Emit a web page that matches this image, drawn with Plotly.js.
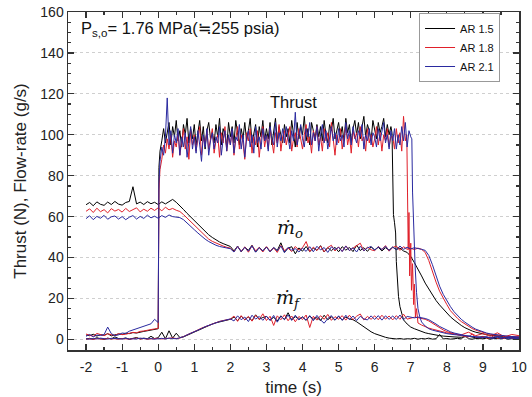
<!DOCTYPE html>
<html>
<head>
<meta charset="utf-8">
<script src="https://cdn.plot.ly/plotly-3.0.1.min.js"></script>
<style>html,body{margin:0;padding:0;background:#fff;}#chart{width:532px;height:397px;}</style>
</head>
<body>
<div id="chart"></div>
<script>
// ---------- data ----------
const seriesNames = ['AR 1.5', 'AR 1.8', 'AR 2.1'];
const seriesColors = ['#000000', '#e0202a', '#2a2aa0'];

// time before ignition (thrust baseline)
const tPre = [-2.0,-1.9,-1.8,-1.7,-1.6,-1.5,-1.4,-1.3,-1.2,-1.1,-1.0,-0.9,-0.8,-0.7,-0.6,-0.5,-0.4,-0.3,-0.2,-0.1,0.0];
const thrustPre15 = [2.1,1.8,2.5,1.6,2.3,2.0,2.8,1.7,2.2,2.6,2.4,3.0,2.8,3.3,3.1,3.6,3.9,4.2,4.5,4.8,5.2];
const thrustPre18 = [2.6,2.0,1.5,2.9,2.2,1.8,2.7,2.4,1.9,2.8,2.3,2.5,3.0,3.4,3.2,3.9,4.1,4.6,4.8,5.1,5.4];
const thrustPre21 = [1.5,2.4,1.2,2.1,1.9,2.3,6.0,2.8,1.8,2.2,3.1,2.9,4.0,4.6,5.2,5.9,6.4,7.1,7.6,9.8,8.2];

// thrust plateau time base
const tPlat = [0.02,0.05,0.1,0.15,0.2,0.25,0.3,0.35,0.4,0.45,
  0.5,0.55,0.6,0.65,0.7,0.75,0.8,0.85,0.9,0.95,
  1.0,1.05,1.1,1.15,1.2,1.25,1.3,1.35,1.4,1.45,
  1.5,1.55,1.6,1.65,1.7,1.75,1.8,1.85,1.9,1.95,
  2.0,2.05,2.1,2.15,2.2,2.25,2.3,2.35,2.4,2.45,
  2.5,2.55,2.6,2.65,2.7,2.75,2.8,2.85,2.9,2.95,
  3.0,3.05,3.1,3.15,3.2,3.25,3.3,3.35,3.4,3.45,
  3.5,3.55,3.6,3.65,3.7,3.75,3.8,3.85,3.9,3.95,
  4.0,4.05,4.1,4.15,4.2,4.25,4.3,4.35,4.4,4.45,
  4.5,4.55,4.6,4.65,4.7,4.75,4.8,4.85,4.9,4.95,
  5.0,5.05,5.1,5.15,5.2,5.25,5.3,5.35,5.4,5.45,
  5.5,5.55,5.6,5.65,5.7,5.75,5.8,5.85,5.9,5.95,
  6.0,6.05,6.1,6.15,6.2,6.25,6.3,6.35,6.4,6.45];
const thrustPlat15 = [84,92,97,103,96,101,106,95,104,99,
  107,97,102,94,105,100,108,96,103,98,
  105,95,101,107,97,104,93,102,106,98,
  101,96,105,99,108,95,103,100,94,106,
  99,104,96,107,101,95,103,98,106,97,
  102,108,96,100,105,94,104,99,107,97,
  103,98,106,95,101,108,97,104,100,96,
  105,99,103,96,107,101,94,106,98,104,
  100,109,97,103,95,106,101,98,105,99,
  104,97,107,100,96,105,102,108,98,103,
  106,99,104,97,108,101,105,96,103,107,
  100,106,98,104,109,99,105,102,97,107,
  103,98,106,101,104,108,99,105,100,104];
const thrustPlat18 = [73,83,88,95,91,98,93,100,89,97,
  94,101,90,98,103,93,99,88,102,95,
  100,92,97,104,90,99,95,102,93,98,
  103,91,97,100,89,101,96,104,92,99,
  95,102,90,98,104,93,100,96,88,101,
  97,103,91,99,95,102,89,98,104,94,
  100,93,103,97,91,101,96,105,92,99,
  102,95,99,104,92,98,101,94,103,97,
  93,100,105,96,99,91,102,97,104,95,
  99,92,103,97,101,94,106,98,90,100,
  96,103,93,99,105,95,100,91,102,98,
  101,94,104,97,99,92,103,96,100,94,
  98,104,95,101,92,100,97,103,94,99];
const thrustPlat21 = [76,87,94,90,99,118,95,102,91,100,
  96,103,90,99,94,101,89,98,104,93,
  99,91,102,95,87,100,94,103,90,97,
  101,93,99,96,104,90,98,102,92,100,
  95,103,91,99,97,105,93,100,89,98,
  102,94,100,91,104,96,99,93,103,97,
  100,92,104,98,95,106,94,101,97,103,
  96,104,99,93,102,97,111,95,100,105,
  98,94,103,99,106,95,101,97,104,92,
  100,105,96,102,93,99,104,97,101,95,
  103,97,100,94,106,98,102,95,104,99,
  96,102,99,105,93,100,97,103,95,101,
  99,94,103,97,101,106,96,100,93,102];

// thrust shutdown tails
const tTail15 = [6.48,6.5,6.52,6.55,6.58,6.6,6.63,6.66,6.7,6.75,6.8,6.9,7.0,7.1,7.2,7.3,7.4,7.5,7.6,7.7,7.8,7.9,8.0,8.2,8.4,8.6,8.8,9.0,9.2,9.4,9.6,9.8,10.0];
const thrustTail15 = [101,72,61,57,52,38,27,21,16,12,9.5,7.5,6,5.2,4.5,3.8,3.2,2.8,2.4,2.1,1.8,1.6,1.4,1.2,1.0,1.5,0.8,1.3,0.6,1.1,0.9,0.7,1.0];
const tTail18 = [6.5,6.55,6.6,6.65,6.7,6.75,6.8,6.85,6.89,6.91,6.93,6.95,6.97,7.0,7.02,7.05,7.08,7.1,7.13,7.16,7.2,7.3,7.4,7.5,7.6,7.7,7.8,7.9,8.0,8.2,8.4,8.6,8.8,9.0,9.2,9.4,9.6,9.8,10.0];
const thrustTail18 = [99,93,103,96,101,92,109,97,100,72,44,62,31,47,24,37,17,27,11,15,8,7,6.2,5.5,5,4.5,4,3.6,3.2,2.6,2.2,3.5,1.8,2.8,1.5,3.2,1.2,2.4,1.8];
const tTail21 = [6.5,6.55,6.6,6.65,6.7,6.75,6.8,6.85,6.9,6.95,7.0,7.03,7.05,7.08,7.12,7.16,7.2,7.25,7.3,7.4,7.5,7.6,7.7,7.8,7.9,8.0,8.2,8.4,8.6,8.8,9.0,9.2,9.4,9.6,9.8,10.0];
const thrustTail21 = [97,103,93,100,95,104,97,106,94,102,99,98,72,52,36,23,15,11,8.5,6.5,5.2,4.5,4,3.5,3.2,2.8,2.3,1.9,1.6,1.3,1.1,0.9,1.4,0.8,1.0,0.7];

// flow-rate time base
const tFlow = [-2.0,-1.9,-1.8,-1.7,-1.6,-1.5,-1.4,-1.3,-1.2,-1.1,
  -1.0,-0.9,-0.8,-0.7,-0.6,-0.5,-0.4,-0.3,-0.2,-0.1,
  0.0,0.1,0.2,0.3,0.4,0.5,0.6,0.7,0.8,0.9,
  1.0,1.1,1.2,1.3,1.4,1.5,1.6,1.7,1.8,1.9,
  2.0,2.1,2.2,2.3,2.4,2.5,2.6,2.7,2.8,2.9,
  3.0,3.1,3.2,3.3,3.4,3.5,3.6,3.7,3.8,3.9,
  4.0,4.1,4.2,4.3,4.4,4.5,4.6,4.7,4.8,4.9,
  5.0,5.1,5.2,5.3,5.4,5.5,5.6,5.7,5.8,5.9,
  6.0,6.1,6.2,6.3,6.4,6.5,6.6,6.7,6.8,6.9,
  7.0,7.1,7.2,7.3,7.4,7.5,7.6,7.7,7.8,7.9,
  8.0,8.1,8.2,8.3,8.4,8.5,8.6,8.7,8.8,8.9,
  9.0,9.1,9.2,9.3,9.4,9.5,9.6,9.7,9.8,9.9,10.0];

// oxidizer flow-rate (g/s)
const mo15 = [65.8,66.9,65.3,67.2,66.0,65.5,67.1,65.9,67.4,66.1,
  65.6,66.9,67.4,74.6,66.2,67.1,65.9,67.3,66.3,67.0,
  65.9,67.2,66.2,67.5,68.4,67.0,65.4,63.5,61.6,59.8,
  57.9,56.0,54.3,52.6,51.1,49.8,48.6,47.6,46.8,46.0,
  45.4,43.2,45.6,42.8,45.1,43.5,46.0,42.7,44.9,43.3,
  45.2,42.9,44.8,43.4,47.2,42.6,44.5,45.3,41.8,44.7,
  43.1,45.4,42.9,44.6,43.5,45.8,42.7,44.9,43.3,45.0,
  42.8,45.3,43.6,44.9,42.9,46.1,43.4,44.8,43.0,45.2,
  43.7,45.0,43.2,44.8,43.6,45.1,43.9,44.6,43.2,42.5,
  40.5,37.5,34.5,31.0,27.5,24.5,21.5,19.0,16.8,14.8,
  12.8,11.0,9.5,8.0,6.8,5.7,4.8,4.1,3.5,3.0,
  2.6,2.3,2.0,1.8,1.6,1.5,1.3,1.2,1.1,1.0,1.0];
const mo18 = [62.6,63.8,62.0,64.1,62.4,63.4,61.8,63.9,62.7,63.5,
  62.2,64.0,62.5,63.3,64.3,62.3,63.6,62.6,64.1,63.0,
  64.3,62.8,64.6,63.3,64.0,63.1,62.5,61.0,59.3,57.5,
  55.6,53.8,52.0,50.4,49.0,47.9,47.0,46.2,45.6,45.0,
  44.6,42.8,45.5,43.0,45.2,42.6,45.8,43.3,44.9,42.7,
  45.3,43.1,44.7,42.5,45.9,43.4,44.6,42.9,45.4,43.6,
  44.8,47.8,42.9,45.1,43.4,45.6,42.8,44.9,46.0,43.2,
  45.2,43.0,45.7,43.4,44.6,45.5,47.0,43.2,45.1,43.8,
  43.3,45.4,43.9,45.8,43.1,44.9,45.6,43.5,45.3,44.0,
  44.5,43.9,44.6,44.0,42.5,38.5,33.0,28.0,23.5,20.0,
  17.0,14.0,12.0,10.2,8.7,7.5,6.3,5.3,4.5,3.9,
  3.3,2.9,2.5,2.2,2.0,1.8,1.6,1.5,1.4,1.3,1.2];
const mo21 = [59.0,60.4,58.5,60.1,59.2,60.6,58.7,59.9,60.3,58.8,
  60.0,58.5,59.7,60.5,58.8,60.1,59.1,60.7,59.4,60.2,
  59.2,60.5,59.6,60.8,60.0,59.6,59.5,58.5,57.0,55.3,
  53.6,52.0,50.4,49.0,47.8,46.8,46.0,45.4,45.0,44.6,
  44.3,42.7,45.4,42.9,45.0,43.1,45.7,42.6,44.8,43.2,
  45.1,42.8,44.9,43.3,45.6,42.4,45.0,43.6,44.3,42.7,
  44.6,43.0,45.3,42.8,45.5,43.7,44.9,42.5,45.2,43.9,
  45.0,42.9,45.6,43.4,44.8,42.7,45.5,43.3,44.7,45.4,
  43.6,45.2,43.9,45.5,43.4,45.1,43.8,45.6,44.0,45.0,
  44.2,44.8,44.5,44.0,43.5,41.0,36.5,31.0,26.0,22.0,
  18.8,16.0,13.5,11.5,9.8,8.4,7.0,6.0,5.0,4.3,
  3.6,3.1,2.7,2.4,2.1,1.9,1.7,1.5,1.4,1.3,1.2];

// fuel flow-rate (g/s)
const mf15 = [0.2,0.5,0.1,0.8,0.3,0.0,0.6,0.2,1.2,0.4,
  0.3,0.7,0.1,0.5,0.9,0.2,0.6,0.3,1.5,0.4,
  0.8,3.5,0.3,4.2,0.6,3.0,0.9,1.2,2.0,2.8,
  3.6,4.5,5.3,6.1,6.8,7.5,8.1,8.6,9.1,9.5,
  9.8,10.9,9.2,11.3,9.6,11.0,9.1,12.0,9.8,10.7,
  11.2,9.4,10.8,9.0,11.5,9.7,13.0,9.5,11.1,9.8,
  10.9,9.3,11.4,9.9,10.6,9.2,11.8,9.6,11.0,9.4,
  11.2,9.5,10.9,10.0,9.6,8.6,7.3,6.0,4.8,3.7,
  2.8,2.1,1.5,1.0,0.6,0.3,0.2,0.4,0.1,0.3,
  0.2,0.5,0.1,0.4,0.2,0.6,0.1,0.3,2.4,0.2,
  0.4,0.1,0.3,0.5,0.2,1.8,0.3,0.1,0.4,0.2,
  0.3,0.6,0.1,0.4,0.2,0.3,0.5,0.1,0.3,0.2,0.3];
const mf18 = [0.1,0.3,0.0,0.4,0.2,0.1,0.5,0.2,0.3,0.1,
  0.4,0.2,0.1,0.3,0.6,0.2,0.4,0.1,0.3,0.2,
  0.5,0.2,0.4,0.3,0.7,0.4,0.6,1.4,2.1,3.0,
  3.8,4.6,5.5,6.2,7.0,7.6,8.3,8.8,9.2,9.6,
  9.9,11.4,8.8,11.6,9.5,11.2,8.9,11.8,9.7,12.5,
  9.2,11.3,6.8,11.5,9.6,12.0,9.1,11.4,8.6,11.2,
  9.7,11.9,5.8,11.3,9.4,11.6,9.8,12.2,9.3,11.1,
  9.9,11.6,9.4,11.8,9.6,11.3,12.4,9.5,11.2,9.8,
  11.5,9.6,11.8,9.9,11.4,9.5,11.6,9.8,12.3,9.9,
  10.4,10.8,10.6,10.3,9.8,9.0,7.8,6.6,5.5,4.6,
  3.8,3.2,2.6,2.2,1.8,1.5,1.2,2.6,1.0,0.8,
  1.5,0.7,0.6,1.8,0.5,0.9,0.4,1.6,0.5,0.8,0.6];
const mf21 = [0.3,0.1,0.4,0.2,0.6,0.2,0.1,0.5,0.3,0.2,
  0.2,0.5,0.1,0.3,0.2,0.6,0.3,0.2,0.4,0.1,
  0.3,0.5,0.2,0.6,0.4,0.3,0.8,1.3,2.2,2.9,
  3.7,4.6,5.3,6.2,6.9,7.6,8.2,8.7,9.1,9.5,
  10.0,9.0,11.5,9.6,10.9,8.7,11.8,9.9,11.2,9.3,
  11.4,9.2,11.7,8.4,11.3,9.6,11.9,9.3,11.8,9.5,
  11.0,9.4,11.6,9.1,11.7,9.5,7.9,10.2,11.6,9.4,
  11.5,9.3,11.8,9.6,11.4,9.2,11.3,10.0,9.5,11.5,
  9.7,11.6,9.4,11.5,9.8,11.4,9.7,11.9,9.6,11.2,
  10.7,10.5,10.9,10.6,10.2,9.6,8.7,7.5,6.3,5.3,
  4.4,3.7,3.1,2.6,2.2,1.9,1.6,1.3,1.1,0.9,
  0.8,1.4,0.6,0.5,1.2,0.4,0.9,0.3,0.6,0.4,0.3];

const xTickVals = [-2,-1,0,1,2,3,4,5,6,7,8,9,10];
const xTickText = ['-2','-1','0','1','2','3','4','5','6','7','8','9','10'];
const yTickVals = [0,20,40,60,80,100,120,140,160];

// ---------- traces ----------
const thrustT = [
  tPre.concat(tPlat, tTail15),
  tPre.concat(tPlat, tTail18),
  tPre.concat(tPlat, tTail21)
];
const thrustY = [
  thrustPre15.concat(thrustPlat15, thrustTail15),
  thrustPre18.concat(thrustPlat18, thrustTail18),
  thrustPre21.concat(thrustPlat21, thrustTail21)
];
const moY = [mo15, mo18, mo21];
const mfY = [mf15, mf18, mf21];

const traces = [];
for (let i = 0; i < 3; i++) {
  const common = {type: 'scatter', mode: 'lines', legendgroup: seriesNames[i], name: seriesNames[i],
    line: {color: seriesColors[i], width: 1}, hoverinfo: 'skip'};
  traces.push(Object.assign({}, common, {x: thrustT[i], y: thrustY[i], showlegend: true}));
  traces.push(Object.assign({}, common, {x: tFlow, y: moY[i], showlegend: false}));
  traces.push(Object.assign({}, common, {x: tFlow, y: mfY[i], showlegend: false}));
}

const tickFont = {family: 'Liberation Sans, Arial, sans-serif', size: 14, color: '#222'};
const layout = {
  width: 532, height: 397,
  margin: {l: 68, r: 13, t: 12, b: 47, pad: 0},
  paper_bgcolor: '#fff', plot_bgcolor: '#fff',
  showlegend: true,
  legend: {x: 0.958, xanchor: 'right', y: 0.997, yanchor: 'top', bgcolor: '#fff',
    bordercolor: '#999', borderwidth: 1, font: {family: 'Liberation Sans, Arial, sans-serif', size: 11, color: '#111'},
    tracegroupgap: 0},
  xaxis: {
    range: [-2.5, 10], tickvals: xTickVals, ticktext: xTickText, ticks: 'inside', ticklen: 6, tickwidth: 1.2, tickcolor: '#333',
    showline: true, linecolor: '#333', linewidth: 1.5, mirror: 'ticks', showgrid: false, zeroline: false,
    minor: {ticks: 'inside', ticklen: 3, dtick: 0.5, tick0: 0, tickcolor: '#333', showgrid: false},
    tickfont: tickFont, ticklabelstandoff: 4,
    title: {text: 'time (s)', font: {family: 'Liberation Sans, Arial, sans-serif', size: 17, color: '#222'}, standoff: 16}
  },
  yaxis: {
    range: [-5.2, 160], tickvals: yTickVals, ticks: 'inside', ticklen: 6, tickwidth: 1.2, tickcolor: '#333',
    showline: true, linecolor: '#333', linewidth: 1.5, mirror: 'ticks', zeroline: false,
    showgrid: true, gridcolor: '#cfcfcf', griddash: 'dot', gridwidth: 1,
    minor: {ticks: 'inside', ticklen: 3, dtick: 5, tick0: 0, tickcolor: '#333', showgrid: false},
    tickfont: tickFont,
    title: {text: 'Thrust (N), Flow-rate (g/s)', font: {family: 'Liberation Sans, Arial, sans-serif', size: 17, color: '#222'}, standoff: 9}
  },
  annotations: [
    {x: -2.2, y: 151.5, xref: 'x', yref: 'y', xanchor: 'left', yanchor: 'middle', showarrow: false,
      text: 'P<sub>s,o</sub>= 1.76 MPa(≒255 psia)', font: {family: 'Liberation Sans, DejaVu Sans, Arial, sans-serif', size: 16.5, color: '#111'}},
    {x: 3.74, y: 116, xref: 'x', yref: 'y', showarrow: false, text: 'Thrust',
      font: {family: 'Liberation Sans, Arial, sans-serif', size: 16.5, color: '#111'}},
    {x: 3.66, y: 54, xref: 'x', yref: 'y', showarrow: false, text: '<i>ṁ</i><sub><i>o</i></sub>',
      font: {family: 'DejaVu Serif, Liberation Serif, serif', size: 19, color: '#111'}},
    {x: 3.62, y: 20, xref: 'x', yref: 'y', showarrow: false, text: '<i>ṁ</i><sub><i>f</i></sub>',
      font: {family: 'DejaVu Serif, Liberation Serif, serif', size: 19, color: '#111'}}
  ]
};

Plotly.newPlot('chart', traces, layout, {staticPlot: true, displayModeBar: false});
</script>
</body>
</html>
